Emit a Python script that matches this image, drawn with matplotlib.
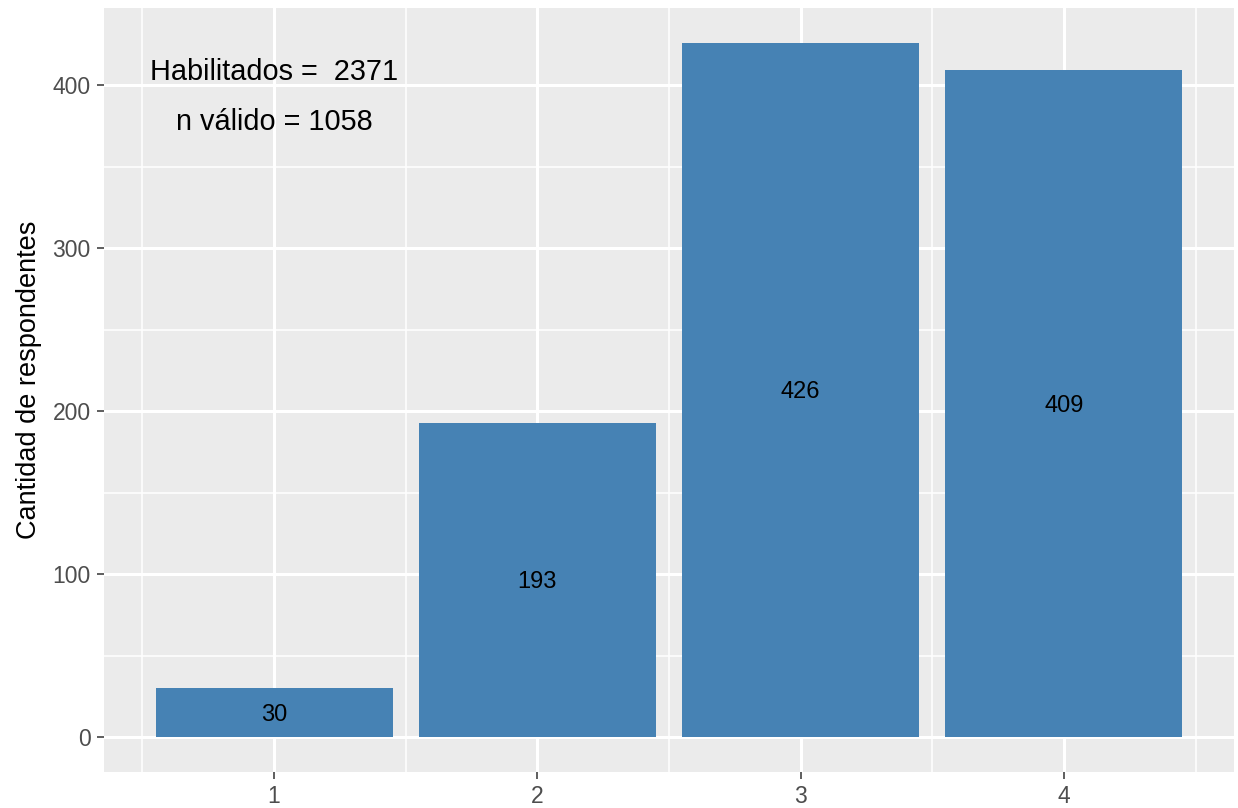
import matplotlib
matplotlib.use("Agg")
import matplotlib.pyplot as plt
from matplotlib.ticker import FixedLocator

categories = ["1", "2", "3", "4"]
values = [30, 193, 426, 409]
y_ticks = [0, 100, 200, 300, 400]
annot_lines = ["Habilitados =  2371", "n válido = 1058"]
y_label = "Cantidad de respondentes"

plt.rcParams['font.family'] = ['Liberation Sans', 'DejaVu Sans']

W, H = 1238, 808
fig = plt.figure(figsize=(W / 100, H / 100), dpi=100)
ax = fig.add_axes([104 / W, 1 - 772 / H, (1234 - 104) / W, (772 - 8) / H])
ax.set_facecolor("#EBEBEB")

x = list(range(1, len(categories) + 1))
ax.bar(x, values, width=0.9, color="#4682B4", zorder=3)
for xi, v in zip(x, values):
    ax.text(xi, v / 2, str(v), ha="center", va="center_baseline", fontsize=17, color="black", zorder=4)

ax.set_xlim(0.354, 4.646)
ax.set_ylim(-21.3, 447.3)
ax.set_xticks(x)
ax.set_xticklabels(categories)
ax.set_yticks(y_ticks)
ax.xaxis.set_minor_locator(FixedLocator([i + 0.5 for i in range(0, len(categories) + 1)]))
ax.yaxis.set_minor_locator(FixedLocator([t + 50 for t in y_ticks]))

ax.grid(which="major", color="white", linewidth=2.2, zorder=1)
ax.grid(which="minor", color="white", linewidth=1.1, zorder=1)
ax.set_axisbelow(True)
for s in ax.spines.values():
    s.set_visible(False)
ax.tick_params(which="major", length=5, width=1.1, color="#333333", labelcolor="#4D4D4D", labelsize=16.5, pad=4.5)
ax.tick_params(which="minor", length=0)

ax.set_ylabel(y_label, fontsize=19.5, color="black")
ax.yaxis.set_label_coords(-0.0553, (772 - 380) / 764)

ax.text(1, 410, annot_lines[0], ha="center", va="center_baseline", fontsize=20.8, color="black", zorder=4)
ax.text(1, 379, annot_lines[1], ha="center", va="center_baseline", fontsize=20.8, color="black", zorder=4)

fig.savefig("out.png", dpi=100)
